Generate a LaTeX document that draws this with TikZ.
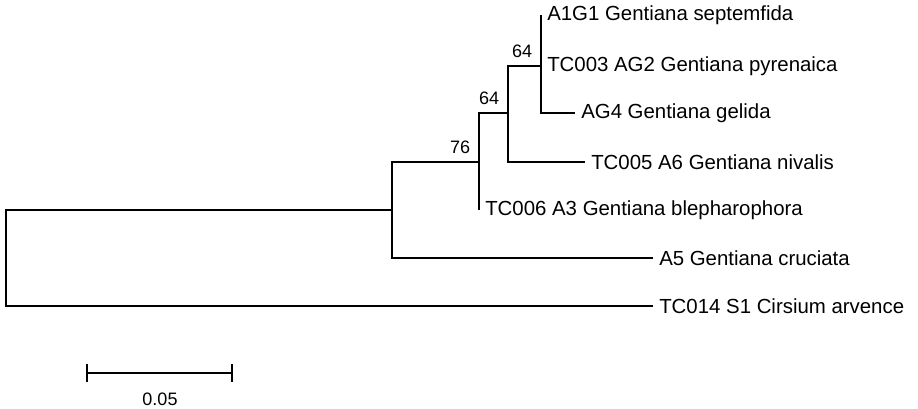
\documentclass[tikz,border=0pt]{standalone}
\usepackage{fontspec}
\setmainfont{Liberation Sans}
\usepackage{tikz}

\begin{document}
\begin{tikzpicture}[x=0.75pt, y=-0.75pt,
	branch/.style={line width=0.9pt},
	leaf/.style={anchor=west, inner sep=0pt, xshift=4.5pt, font=\fontsize{15.3}{15.3}\selectfont},
	boot/.style={anchor=south east, inner sep=0pt, xshift=-6.5pt, yshift=6pt, font=\fontsize{13.5}{13.5}\selectfont}]
	\useasboundingbox (0,0) rectangle (918,409);

	% inner nodes
	\coordinate (r) at (6,258);
	\coordinate (n1) at (392,210);
	\coordinate (n2) at (479,162);
	\coordinate (n3) at (508,113);
	\coordinate (n4) at (541,66);

	% tips and their names
	\foreach \n/\x/\y/\t in {
		a1g1/541/15/A1G1 Gentiana septemfida,
		tc003/541/66/TC003 AG2 Gentiana pyrenaica,
		ag4/575/113/AG4 Gentiana gelida,
		tc005/585/162/TC005 A6 Gentiana nivalis,
		tc006/479/210/TC006 A3 Gentiana blepharophora,
		a5/653/258/A5 Gentiana cruciata,
		tc014/653/306/TC014 S1 Cirsium arvence} {
		\coordinate (\n) at (\x,\y);
		\node[leaf] (\n-lab) at (\n) {\t};
	}

	% branches
	\foreach \p/\c in {r/n1, r/tc014, n1/n2, n1/a5, n2/n3, n2/tc006,
		n3/n4, n3/tc005, n4/a1g1, n4/tc003, n4/ag4}
		\draw[branch] (\p) |- (\c);

	% bootstrap values
	\node[boot] (b4) at (n4) {64};
	\node[boot] (b3) at (n3) {64};
	\node[boot] (b2) at (n2) {76};

	% scale bar
	\coordinate (sbl) at (87,373);
	\coordinate (sbr) at (232,373);
	\draw[branch] (sbl) -- (sbr);
	\draw[branch] ([yshift=6.5pt]sbl) -- ([yshift=-6.5pt]sbl);
	\draw[branch] ([yshift=6.5pt]sbr) -- ([yshift=-6.5pt]sbr);
	\node[font=\fontsize{13.5}{13.5}\selectfont, inner sep=0pt] (sblab) at (160,399) {0.05};
\end{tikzpicture}
\end{document}
